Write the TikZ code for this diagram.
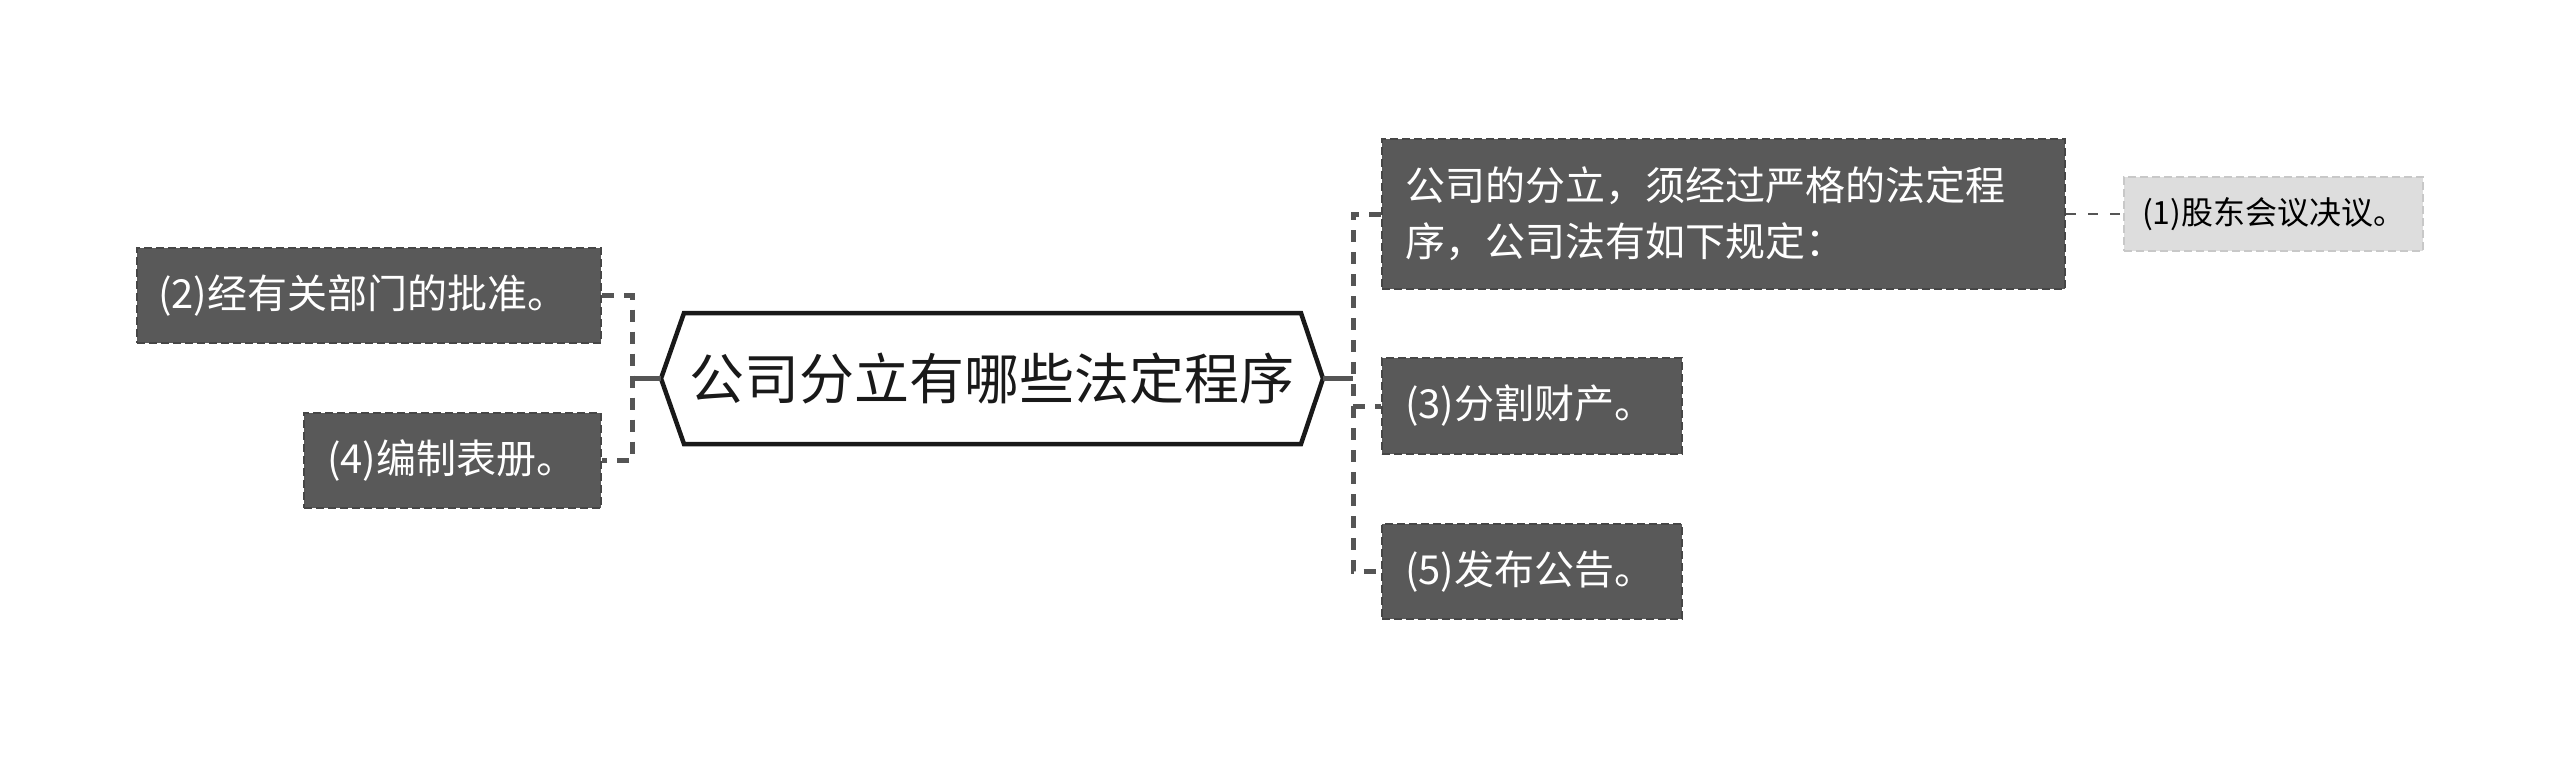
\documentclass[tikz,border=0pt]{standalone}
\usepackage{fontspec}
\setmainfont{Noto Sans CJK SC}
\definecolor{boxdark}{RGB}{89,89,89}
\definecolor{boxedge}{RGB}{70,70,70}
\definecolor{boxlight}{RGB}{221,221,221}
\definecolor{lightedge}{RGB}{200,200,200}
\definecolor{linkgrey}{RGB}{85,85,85}
\begin{document}
\begin{tikzpicture}[x=0.5pt,y=-0.5pt,
  darkbox/.style={rectangle, fill=boxdark, draw=boxedge, dash pattern=on 4pt off 2pt,
    line width=1pt, text=white, font=\fontsize{20pt}{28pt}\selectfont,
    align=left, inner ysep=0pt},
  lightbox/.style={rectangle, fill=boxlight, draw=lightedge, dash pattern=on 4pt off 2pt,
    line width=1pt, text=black, font=\fontsize{16pt}{20pt}\selectfont,
    align=left, inner ysep=0pt},
  link/.style={draw=linkgrey, line width=2.5pt, dash pattern=on 6pt off 5pt},
  solidlink/.style={draw=linkgrey, line width=2.25pt},
  thinlink/.style={draw=linkgrey, line width=1.1pt, dash pattern=on 5pt off 6pt},
  hexline/.style={draw=black!90, line width=2.25pt, fill=white, line join=miter}]
\useasboundingbox (0,0) rectangle (2560,757);
\fill[white] (0,0) rectangle (2560,757);

% root hexagon
\coordinate (rootW) at (661,378.5);
\coordinate (rootE) at (1323,378.5);
\draw[hexline] (rootW) -- (684,313) -- (1301,313) -- (rootE) -- (1301,444) -- (684,444) -- cycle;
\node[font=\fontsize{27.5pt}{32pt}\selectfont, text=black!90] (root) at (992,378.5) {公司分立有哪些法定程序};

% junctions
\coordinate (lj) at (632,378.5);
\coordinate (rj) at (1353,378.5);

% boxes
\node[darkbox, minimum width=232pt, minimum height=47.5pt, text width=211pt, inner xsep=10.5pt] (b2) at (369,295.5) {(2)经有关部门的批准。};
\node[darkbox, minimum width=148.5pt, minimum height=47.5pt, text width=125.5pt, inner xsep=11.5pt] (b4) at (452.5,460.5) {(4)编制表册。};
\node[darkbox, minimum width=341.5pt, minimum height=75pt, text width=318.5pt, inner xsep=11.5pt] (bA) at (1723.5,214) {公司的分立，须经过严格的法定程\\序，公司法有如下规定：};
\node[darkbox, minimum width=150pt, minimum height=48pt, text width=127pt, inner xsep=11.5pt] (bB) at (1532,406) {(3)分割财产。};
\node[darkbox, minimum width=150pt, minimum height=47.5pt, text width=127pt, inner xsep=11.5pt] (bC) at (1532,571.5) {(5)发布公告。};
\node[lightbox, minimum width=149.5pt, minimum height=37pt, text width=131.5pt, inner xsep=9pt] (bD) at (2273.5,214) {(1)股东会议决议。};

% connectors
\draw[solidlink] (rootW) -- (lj);
\draw[link] (b2.east) -- (b2.east -| lj) -- (b4.east -| lj) -- (b4.east);
\draw[solidlink] (rootE) -- (rj);
\draw[link] (bA.west) -- (bA.west -| rj) -- (bC.west -| rj) -- (bC.west);
\draw[link] (bB.west -| rj) -- (bB.west);
\draw[thinlink] (bA.east) -- (bD.west);
\end{tikzpicture}
\end{document}
